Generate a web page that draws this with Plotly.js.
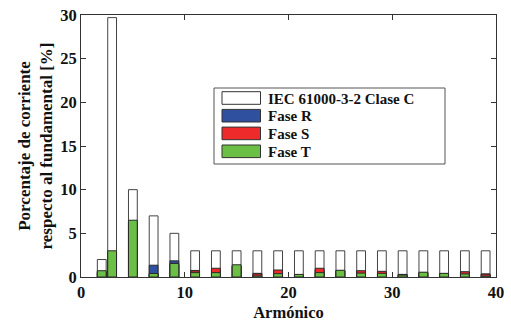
<!DOCTYPE html>
<html>
<head>
<meta charset="utf-8">
<script src="https://cdn.plot.ly/plotly-3.0.1.min.js"></script>
<style>html,body{margin:0;padding:0;background:#fff;}#chart{width:511px;height:322px;}</style>
</head>
<body>
<div id="chart"></div>
<script>
// Data
const harmonics = [2, 3, 5, 7, 9, 11, 13, 15, 17, 19, 21, 23, 25, 27, 29, 31, 33, 35, 37, 39];
const iecLimit  = [2, 29.7, 10, 7, 5, 3, 3, 3, 3, 3, 3, 3, 3, 3, 3, 3, 3, 3, 3, 3];
const faseR     = [0.6, 2.9, 6.3, 1.35, 1.85, 0.75, 0.8, 1.2, 0.42, 0.6, 0.25, 0.8, 0.7, 0.6, 0.55, 0.3, 0.45, 0.4, 0.55, 0.35];
const faseS     = [0.5, 2.8, 6.2, 0.35, 1.4, 0.7, 1.0, 1.3, 0.35, 0.8, 0.2, 1.0, 0.7, 0.72, 0.65, 0.28, 0.5, 0.4, 0.6, 0.32];
const faseT     = [0.72, 3.0, 6.5, 0.4, 1.55, 0.5, 0.5, 1.4, 0.12, 0.38, 0.3, 0.5, 0.77, 0.45, 0.42, 0.22, 0.55, 0.42, 0.35, 0.1];
const seriesNames = ['IEC 61000-3-2 Clase C', 'Fase R', 'Fase S', 'Fase T'];
const xTicks = [0, 10, 20, 30, 40];
const yTicks = [0, 5, 10, 15, 20, 25, 30];

const colors = ['#ffffff', '#2f4f9f', '#ee2a2a', '#6cbf45'];
const values = [iecLimit, faseR, faseS, faseT];

const W = 511, H = 322;
const L = 81, R = 15, T = 15, B = 45;
const pw = W - L - R, ph = H - T - B;
const FAM = '"Liberation Serif"';

const traces = values.map((v, i) => ({
  type: 'bar',
  x: harmonics,
  y: v,
  name: seriesNames[i],
  width: 0.85,
  marker: {color: colors[i], line: {color: i === 0 ? '#444' : '#2a2a2a', width: 1}},
  showlegend: false,
  hoverinfo: 'x+y'
}));

// custom legend (layout decoration)
function px2x(px) { return (px - L) / pw; }
function py2y(py) { return (H - B - py) / ph; }
const shapes = [{
  type: 'rect', xref: 'paper', yref: 'paper',
  x0: px2x(214), x1: px2x(445), y0: py2y(164), y1: py2y(88),
  line: {color: '#555', width: 1}, fillcolor: '#fff'
}];
const annotations = [];
const rowC = [98, 115.7, 133.4, 151.3];
seriesNames.forEach((n, i) => {
  shapes.push({
    type: 'rect', xref: 'paper', yref: 'paper',
    x0: px2x(222), x1: px2x(260.5), y0: py2y(rowC[i] + 6.3), y1: py2y(rowC[i] - 6.3),
    line: {color: '#333', width: 1}, fillcolor: colors[i]
  });
  annotations.push({
    xref: 'paper', yref: 'paper', x: px2x(267), y: py2y(rowC[i] + 0.5),
    xanchor: 'left', yanchor: 'middle', text: '<b>' + n + '</b>', showarrow: false,
    font: {family: FAM, size: 15, color: '#111'}, borderpad: 0
  });
});

const fontB = {family: FAM, size: 16.5, color: '#111'};

const layout = {
  width: W, height: H,
  margin: {l: L, r: R, t: T, b: B, pad: 0},
  paper_bgcolor: '#fff', plot_bgcolor: '#fff',
  barmode: 'overlay',
  showlegend: false,
  font: fontB,
  xaxis: {
    range: [0, 40], tickvals: xTicks, ticktext: xTicks.map(t => '<b>' + t + '</b>'),
    ticks: 'inside', ticklen: 5, tickcolor: '#333', mirror: 'ticks',
    showline: true, linecolor: '#333', linewidth: 1, showgrid: false, zeroline: false,
    tickfont: fontB,
    title: {text: '<b>Armónico</b>', font: fontB, standoff: 9}
  },
  yaxis: {
    range: [0, 30], tickvals: yTicks, ticktext: yTicks.map(t => '<b>' + t + '</b>'),
    ticks: 'inside', ticklen: 5, tickcolor: '#333', mirror: 'ticks',
    showline: true, linecolor: '#333', linewidth: 1, showgrid: false, zeroline: false,
    tickfont: fontB,
    title: {text: '<b>Porcentaje de corriente<br>respecto al fundamental [%]</b>', font: {family: FAM, size: 17, color: '#111'}, standoff: 3}
  },
  shapes: shapes,
  annotations: annotations
};

Plotly.newPlot('chart', traces, layout, {displayModeBar: false, staticPlot: true});
</script>
</body>
</html>
